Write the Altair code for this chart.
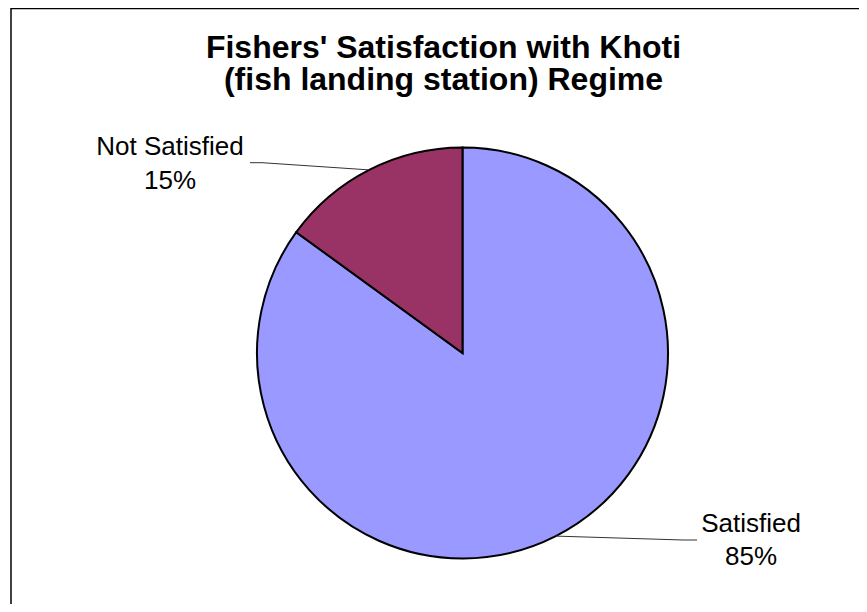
import math
import altair as alt
import pandas as pd

# ---- data ----
categories = ["Satisfied", "Not Satisfied"]
percent = [85, 15]
colors = ["#9999FF", "#993366"]
title_lines = ["Fishers' Satisfaction with Khoti", "(fish landing station) Regime"]

# ---- layout ----
W, H = 851, 596
CX, CY, R = 454.5, 345.0, 205.5
FONT = "Liberation Sans"

df = pd.DataFrame({"category": categories, "percent": percent, "idx": list(range(len(categories)))})
one = pd.DataFrame({"a": [0]})

pie = alt.Chart(df).mark_arc(radius=R, stroke="black", strokeWidth=2).encode(
    theta=alt.Theta("percent:Q", stack=True),
    color=alt.Color("category:N", scale=alt.Scale(domain=categories, range=colors), legend=None),
    order=alt.Order("idx:Q"),
    x=alt.value(CX),
    y=alt.value(CY),
)

# mid-angle points on the circle for leader lines
total = sum(percent)
cum = 0
mids = []
for p in percent:
    a = (cum + p / 2) / total * 2 * math.pi
    mids.append((CX + R * math.sin(a), CY - R * math.cos(a)))
    cum += p

layers = [pie]

def rule(x, y, x2, y2, color="black", w=1.0):
    return alt.Chart(one).mark_rule(color=color, strokeWidth=w).encode(
        x=alt.value(x), y=alt.value(y), x2=alt.value(x2), y2=alt.value(y2)
    )

# leader lines
sx, sy = mids[0]
layers.append(rule(sx, sy, 675, 532, "#333333", 1))
layers.append(rule(675, 532, 689, 532, "#333333", 1))
nx, ny = mids[1]
layers.append(rule(254, 154.7, nx, ny, "#333333", 1))
layers.append(rule(242, 154.7, 254, 154.7, "#333333", 1))

# labels
label_pos = [(743, 523.7), (162, 147)]
for (lx, ly), cat, p in zip(label_pos, categories, percent):
    layers.append(
        alt.Chart(one).mark_text(
            font=FONT, fontSize=26, color="black", align="center", baseline="alphabetic", lineHeight=33.5
        ).encode(x=alt.value(lx), y=alt.value(ly), text=alt.value([cat, f"{p}%"]))
    )

# title (two lines)
for i, line in enumerate(title_lines):
    layers.append(
        alt.Chart(one).mark_text(
            font=FONT, fontSize=32, fontWeight="bold", color="black", align="center",
            baseline="alphabetic"
        ).encode(x=alt.value(435.5), y=alt.value(50 + 31.5 * i), text=alt.value(line))
    )

# border (top and left edges of the chart frame)
layers.append(rule(3, 0.5, W, 0.5, "black", 1.5))
layers.append(rule(3, 0, 3, H, "black", 1.5))

chart = alt.layer(*layers).properties(
    width=W, height=H, autosize=alt.AutoSizeParams(type="none"), padding=0, background="white"
).configure_view(stroke=None)

chart.save("out.html", embed_options={"renderer": "svg", "actions": False})
